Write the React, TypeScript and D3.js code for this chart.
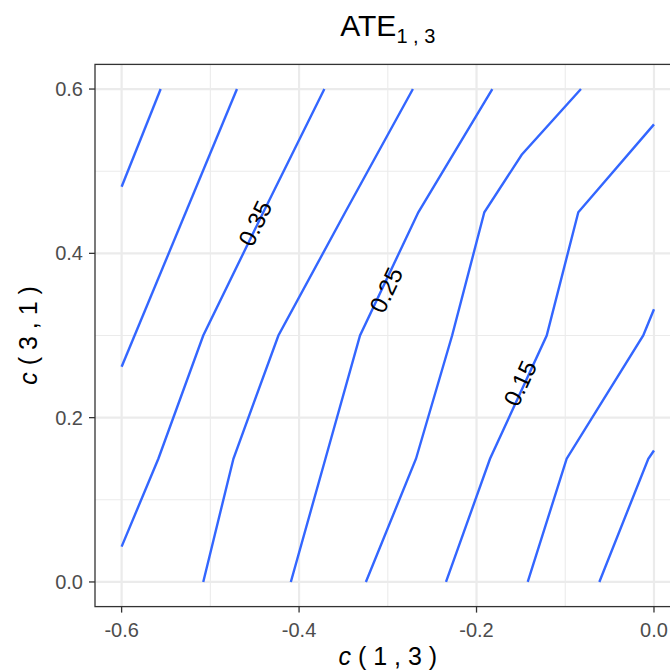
import React from "react";
import * as d3 from "d3";

const xTicks = [-0.6, -0.4, -0.2, 0.0];
const xMinor = [-0.5, -0.3, -0.1];
const yTicks = [0.0, 0.2, 0.4, 0.6];
const yMinor = [0.1, 0.3, 0.5];
const xTickLabels = ["-0.6", "-0.4", "-0.2", "0.0"];
const yTickLabels = ["0.0", "0.2", "0.4", "0.6"];

const levels = [0.45, 0.4, 0.35, 0.3, 0.25, 0.2, 0.15, 0.1, 0.05];

const c045: [number, number][] = [[-0.6, 0.481], [-0.556, 0.6]];
const c040: [number, number][] = [[-0.6, 0.262], [-0.47, 0.6]];
const c035: [number, number][] = [[-0.6, 0.043], [-0.5586, 0.15], [-0.508, 0.3], [-0.4403, 0.45], [-0.3715, 0.6]];
const c030: [number, number][] = [[-0.508, 0], [-0.474, 0.15], [-0.4233, 0.3], [-0.348, 0.45], [-0.2717, 0.6]];
const c025: [number, number][] = [[-0.4093, 0], [-0.3703, 0.15], [-0.3313, 0.3], [-0.2656, 0.45], [-0.1822, 0.6]];
const c020: [number, number][] = [[-0.3247, 0], [-0.2682, 0.15], [-0.2275, 0.3], [-0.1912, 0.45], [-0.1491, 0.52], [-0.0823, 0.6]];
const c015: [number, number][] = [[-0.2344, 0], [-0.1848, 0.15], [-0.1209, 0.3], [-0.0853, 0.45], [0, 0.557]];
const c010: [number, number][] = [[-0.1423, 0], [-0.0984, 0.15], [-0.0121, 0.3], [0, 0.332]];
const c005: [number, number][] = [[-0.0616, 0], [-0.0064, 0.15], [0, 0.16]];

const contourPaths = [c045, c040, c035, c030, c025, c020, c015, c010, c005];

const labelLevels = [0.35, 0.25, 0.15];
const labelX = [-0.4496, -0.302, -0.151];
const labelY = [0.4365, 0.3554, 0.2418];

const W = 670;
const H = 670;
const panel = { left: 95, right: 680.6, top: 64.4, bottom: 606.6 };

export default function App() {
  const x = d3.scaleLinear().domain([-0.63, 0.03]).range([panel.left, panel.right]);
  const y = d3.scaleLinear().domain([-0.03, 0.63]).range([panel.bottom, panel.top]);
  const line = d3
    .line<[number, number]>()
    .x((d) => x(d[0]))
    .y((d) => y(d[1]));

  const font = "'Liberation Sans', Arial, Helvetica, sans-serif";

  const labelAngle = (pts: [number, number][], ly: number) => {
    for (let i = 0; i < pts.length - 1; i++) {
      const a = pts[i];
      const b = pts[i + 1];
      if (ly >= a[1] && ly <= b[1]) {
        const dx = x(b[0]) - x(a[0]);
        const dy = y(b[1]) - y(a[1]);
        return (Math.atan2(dy, dx) * 180) / Math.PI;
      }
    }
    return -64;
  };

  return (
    <svg
      width={W}
      height={H}
      style={{ position: "absolute", left: 0, top: 0, background: "#fff" }}
    >
      <rect x={0} y={0} width={W} height={H} fill="#ffffff" />
      <defs>
        <clipPath id="panelClip">
          <rect x={panel.left} y={panel.top} width={panel.right - panel.left} height={panel.bottom - panel.top} />
        </clipPath>
      </defs>
      <g clipPath="url(#panelClip)">
        {xMinor.map((v) => (
          <line key={"xm" + v} x1={x(v)} x2={x(v)} y1={panel.top} y2={panel.bottom} stroke="#EBEBEB" strokeWidth={1.1} />
        ))}
        {yMinor.map((v) => (
          <line key={"ym" + v} y1={y(v)} y2={y(v)} x1={panel.left} x2={panel.right} stroke="#EBEBEB" strokeWidth={1.1} />
        ))}
        {xTicks.map((v) => (
          <line key={"xg" + v} x1={x(v)} x2={x(v)} y1={panel.top} y2={panel.bottom} stroke="#EBEBEB" strokeWidth={2.2} />
        ))}
        {yTicks.map((v) => (
          <line key={"yg" + v} y1={y(v)} y2={y(v)} x1={panel.left} x2={panel.right} stroke="#EBEBEB" strokeWidth={2.2} />
        ))}
        {contourPaths.map((p, i) => (
          <path key={"c" + levels[i]} d={line(p) || ""} fill="none" stroke="#3366FF" strokeWidth={2.4} />
        ))}
        {labelLevels.map((lv, i) => {
          const idx = levels.indexOf(lv);
          const ang = labelAngle(contourPaths[idx], labelY[i]);
          const px = x(labelX[i]);
          const py = y(labelY[i]);
          return (
            <text
              key={"l" + lv}
              x={px}
              y={py}
              transform={`rotate(${ang} ${px} ${py})`}
              textAnchor="middle"
              dominantBaseline="central"
              fontFamily={font}
              fontSize={24}
              fill="#000"
            >
              {lv.toFixed(2)}
            </text>
          );
        })}
      </g>
      <rect
        x={panel.left}
        y={panel.top}
        width={panel.right - panel.left}
        height={panel.bottom - panel.top}
        fill="none"
        stroke="#333333"
        strokeWidth={1.3}
      />
      {xTicks.map((v, i) => (
        <g key={"xt" + v}>
          <line x1={x(v)} x2={x(v)} y1={panel.bottom} y2={panel.bottom + 6} stroke="#333333" strokeWidth={1.3} />
          <text x={x(v)} y={637} textAnchor="middle" fontFamily={font} fontSize={20} fill="#4D4D4D">
            {xTickLabels[i]}
          </text>
        </g>
      ))}
      {yTicks.map((v, i) => (
        <g key={"yt" + v}>
          <line x1={panel.left - 6} x2={panel.left} y1={y(v)} y2={y(v)} stroke="#333333" strokeWidth={1.3} />
          <text x={83} y={y(v)} textAnchor="end" dominantBaseline="central" fontFamily={font} fontSize={20} fill="#4D4D4D">
            {yTickLabels[i]}
          </text>
        </g>
      ))}
      <text x={(panel.left + panel.right) / 2} y={665} textAnchor="middle" fontFamily={font} fontSize={25} fill="#000">
        <tspan fontStyle="italic">c</tspan>
        <tspan> ( 1 , 3 )</tspan>
      </text>
      <text
        transform={`translate(37, ${(panel.top + panel.bottom) / 2}) rotate(-90)`}
        textAnchor="middle"
        fontFamily={font}
        fontSize={25}
        fill="#000"
      >
        <tspan fontStyle="italic">c</tspan>
        <tspan> ( 3 , 1 )</tspan>
      </text>
      <text x={(panel.left + panel.right) / 2} y={36} textAnchor="middle" fontFamily={font} fontSize={30} fill="#000">
        <tspan>ATE</tspan>
        <tspan fontSize={20} dy={7}>1 , 3</tspan>
      </text>
    </svg>
  );
}
